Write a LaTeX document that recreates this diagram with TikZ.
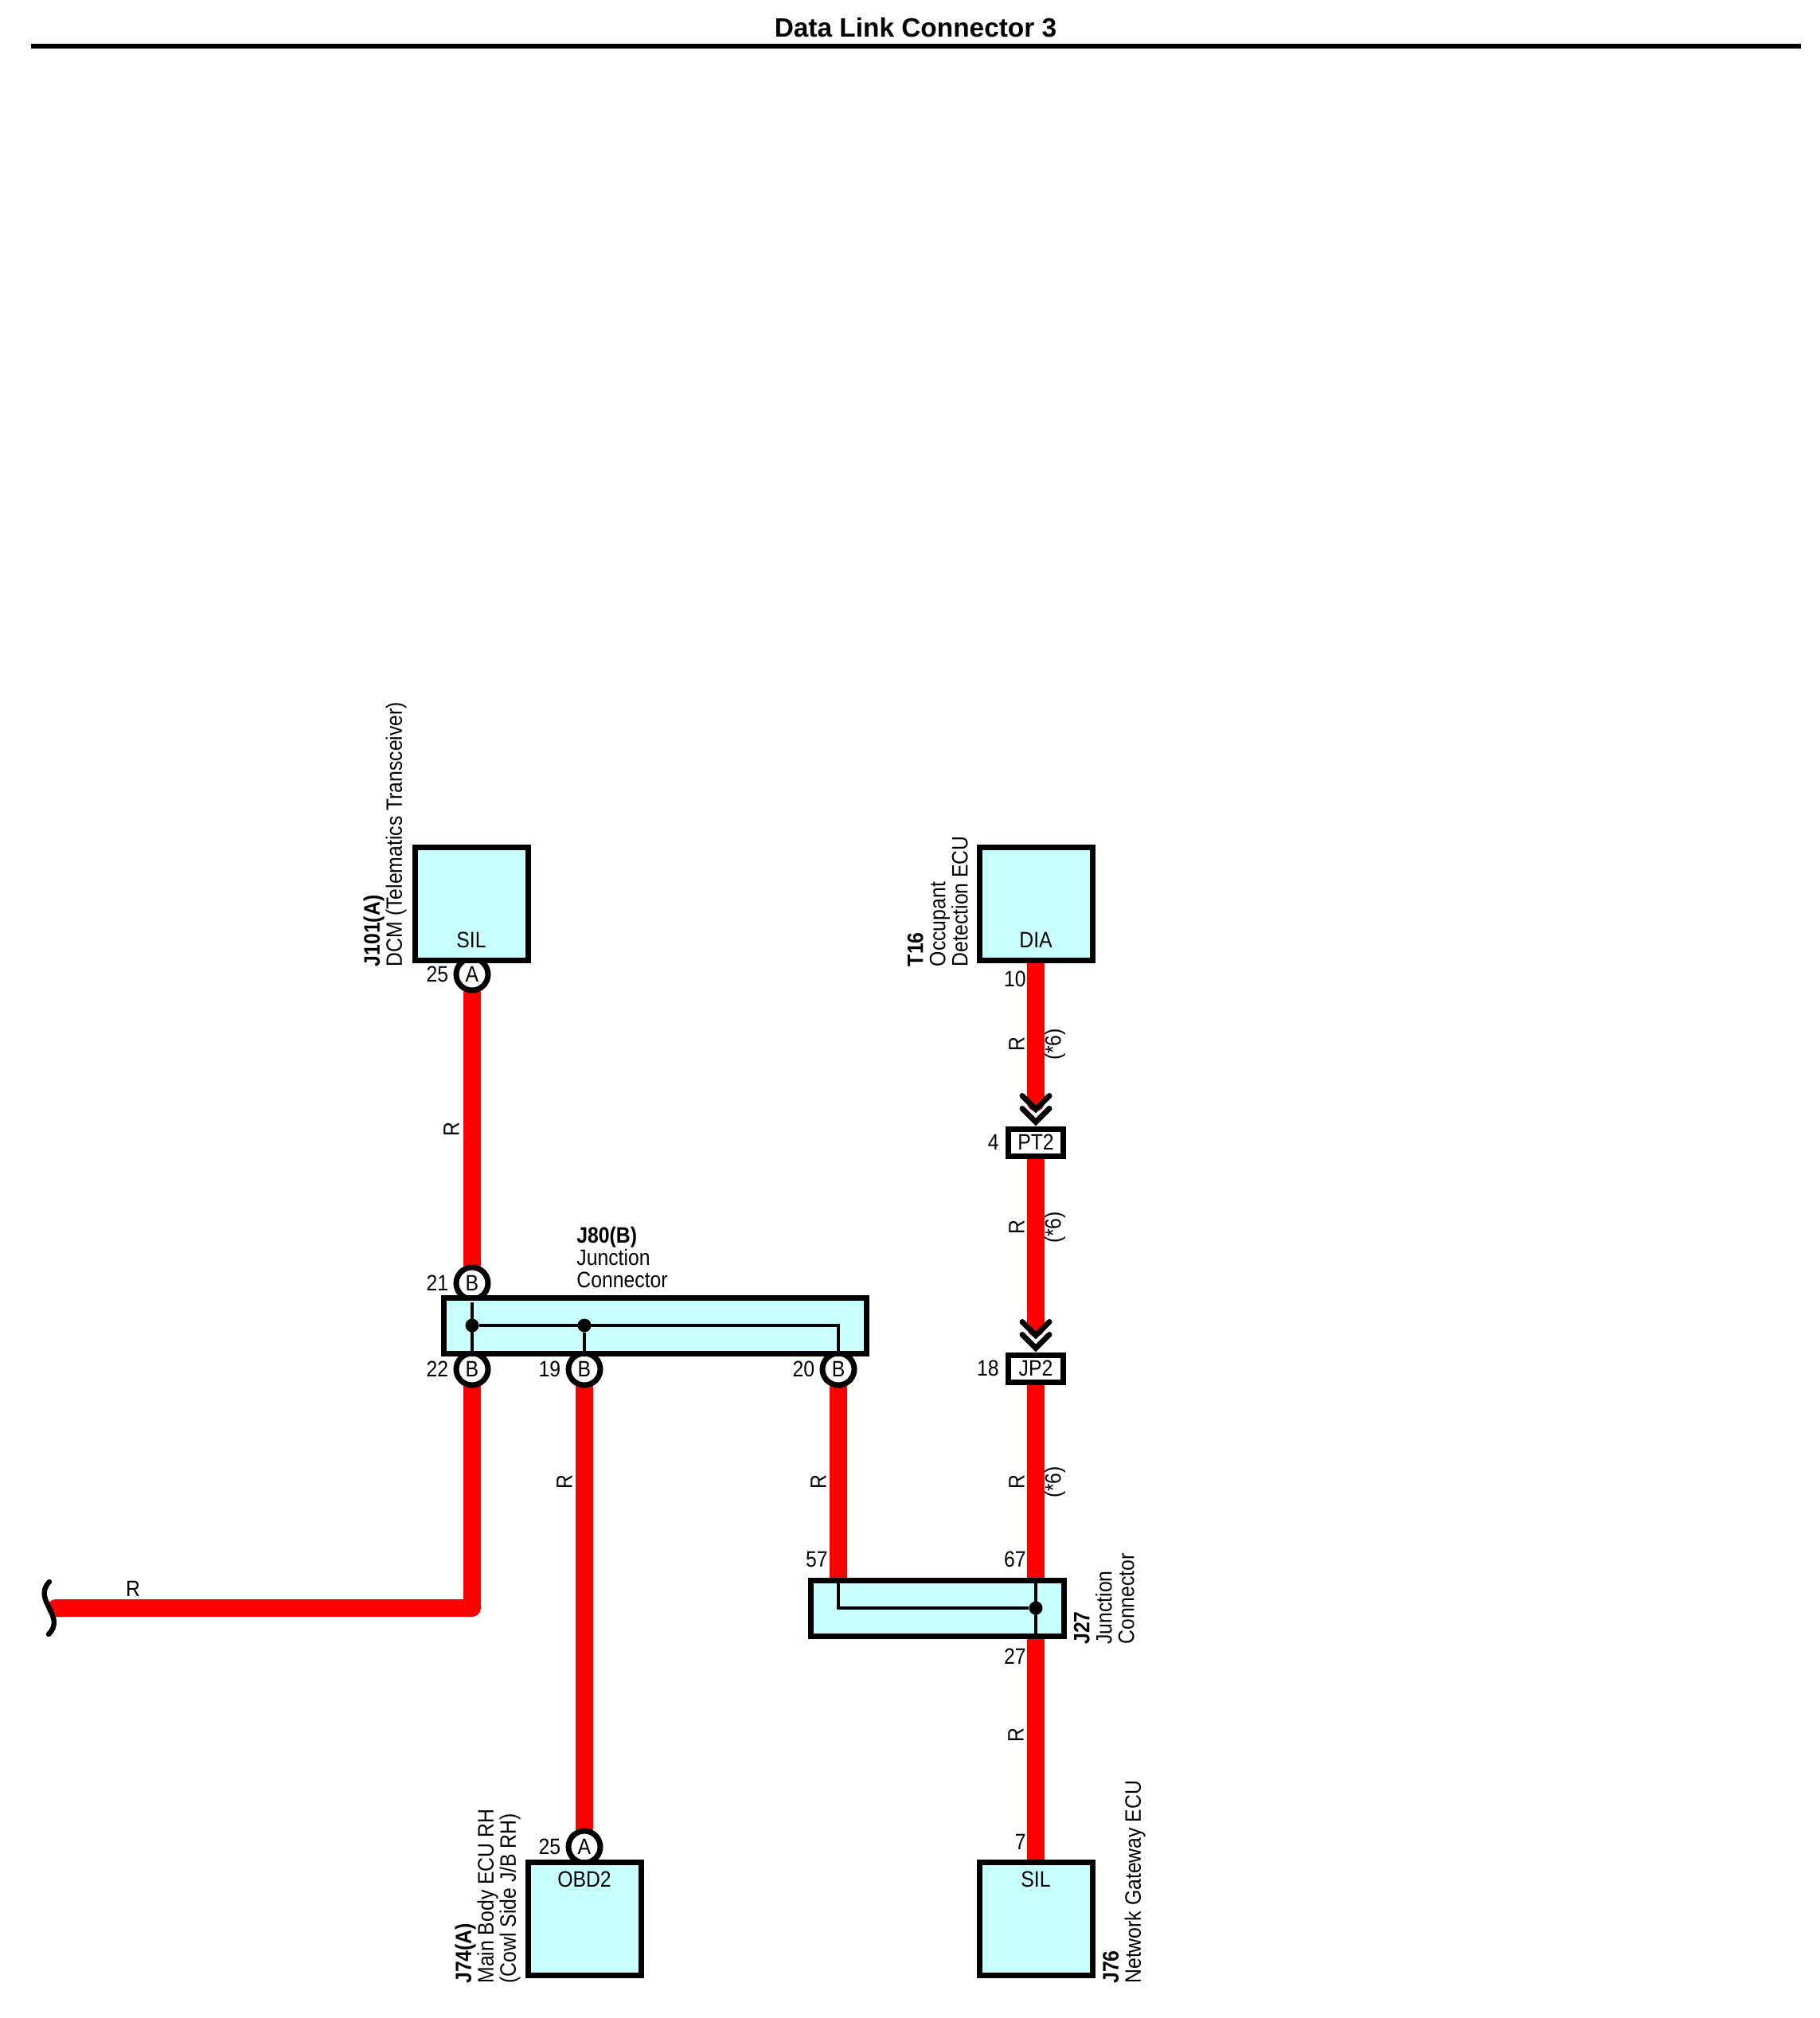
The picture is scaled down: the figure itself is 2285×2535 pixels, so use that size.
\documentclass[tikz,border=0pt]{standalone}
\usepackage{fontspec}
\setmainfont{Liberation Sans}[FakeStretch=0.885]
\newfontfamily\titlefont{Liberation Sans}
\usetikzlibrary{backgrounds, positioning}
\definecolor{boxcyan}{RGB}{200,255,255}
\definecolor{wirered}{RGB}{255,0,0}

\tikzset{
    lbl/.style={inner sep=0pt, font=\fontsize{14}{14}\selectfont, align=left},
    uplbl/.style={lbl, rotate=90, anchor=south west},
    wirelbl/.style={lbl, rotate=90},
    pinnum/.style={lbl},
    ecubox/.style={draw, line width=3.5pt, fill=boxcyan, minimum width=71pt, minimum height=71pt},
    jbox/.style={draw, line width=3.5pt, fill=boxcyan, minimum height=35pt},
    plug/.style={draw, line width=3.5pt, fill=white, inner sep=0pt, minimum width=34.5pt, minimum height=17pt, font=\fontsize{14}{14}\selectfont},
    pin/.style={circle, draw, line width=3.5pt, fill=white, inner sep=0pt, minimum size=20pt, font=\fontsize{14}{14}\selectfont},
    dot/.style={circle, fill=black, inner sep=0pt, minimum size=8.5pt},
    wire/.style={draw=wirered, line width=11pt, line cap=round, line join=round},
    inner/.style={draw, line width=2pt},
    chevrons/.pic={
        \draw[line width=3.5pt, line cap=round] (-17,-17) -- (0,0) -- (17,-17);
        \draw[line width=3.5pt, line cap=round] (-17,-33) -- (0,-16) -- (17,-33);
    }
}

\begin{document}
\begin{tikzpicture}[x=0.5pt, y=-0.5pt, node distance=3pt]
    \useasboundingbox (0,0) rectangle (2285,2535);

    % title
    \node (title) [inner sep=0pt] at (1150,35) {\titlefont\bfseries\fontsize{16.7}{17}\selectfont Data Link Connector 3};
    \coordinate (rulel) at (39,58);
    \coordinate (ruler) at (2262,58);
    \draw[line width=3pt] (rulel) -- (ruler);

    % pins go first, the boxes sit over them
    \node (pa) [pin] at (593,1224) {A};
    \node (b21) [pin] at (593,1612) {B};
    \node (b22) [pin] at (593,1720) {B};
    \node (b19) [pin] at (734,1720) {B};
    \node (b20) [pin] at (1053,1720) {B};
    \node (pobd) [pin] at (734,2320) {A};

    \node (dcm) [ecubox] at (592.5,1135) {};
    \node (occ) [ecubox] at (1301,1135) {};
    \node (mbe) [ecubox] at (734.5,2410) {};
    \node (gate) [ecubox] at (1301,2410) {};
    \node (j80) [jbox, minimum width=265.5pt] at (823,1665.5) {};
    \node (j27) [jbox, minimum width=159pt] at (1177,2020) {};
    \node (pt2) [plug] at (1301,1435) {PT2};
    \node (jp2) [plug] at (1301,1719) {JP2};

    \coordinate (pt2in) at (1301,1385);
    \coordinate (jp2in) at (1301,1668);
    \coordinate (j57) at (1053,1983);
    \coordinate (j67) at (1301,1983);
    \coordinate (j27out) at (1301,2057);
    \coordinate (brk) at (70,2020);

    % wires
    \begin{scope}[on background layer]
        \draw[wire] (pa) -- (b21);
        \draw[wire] (b22) |- (brk);
        \draw[wire] (b19) -- (pobd);
        \draw[wire] (b20) -- (j57);
        \draw[wire] (occ) -- (pt2in);
        \draw[wire] (pt2) -- (jp2in);
        \draw[wire] (jp2) -- (j67);
        \draw[wire] (j27out) -- (gate);
    \end{scope}

    \pic at ([yshift=2.5pt]pt2.north) {chevrons};
    \pic at ([yshift=2.5pt]jp2.north) {chevrons};

    % break mark
    \coordinate (brka) at (62,1987);
    \coordinate (brkb) at (61,2053);
    \draw[line width=3.2pt, line cap=round] (brka) .. controls (40,2010) and (84,2030) .. (brkb);

    % inside the junction connectors
    \node (jd1) [dot] at (593,1665) {};
    \node (jd2) [dot] at (734,1665) {};
    \node (jd3) [dot] at (1301,2020) {};
    \draw[inner] (b21.south) -- (b22.north);
    \draw[inner] (jd1) -| (b20.north);
    \draw[inner] (jd2) -- (b19.north);
    \draw[inner] (j57) |- (jd3);
    \draw[inner] (j67) -- (j27out);

    % pin numbers
    \node (n25a) [pinnum, left=of pa] {25};
    \node (n21) [pinnum, left=of b21] {21};
    \node (n22) [pinnum, left=of b22] {22};
    \node (n19) [pinnum, left=of b19] {19};
    \node (n20) [pinnum, left=of b20] {20};
    \node (n25b) [pinnum, left=of pobd] {25};
    \node (n4) [pinnum, left=4pt of pt2] {4};
    \node (n18) [pinnum, left=4pt of jp2] {18};
    \node (n10) [pinnum, anchor=east] at (1289,1230) {10};
    \node (n57) [pinnum, anchor=east] at (1040,1959) {57};
    \node (n67) [pinnum, anchor=east] at (1289,1959) {67};
    \node (n27) [pinnum, anchor=east] at (1289,2081) {27};
    \node (n7) [pinnum, anchor=east] at (1289,2314) {7};

    % terminal names
    \node (tsil) [lbl] at (592,1181) {SIL};
    \node (tdia) [lbl] at (1301,1181) {DIA};
    \node (tobd) [lbl] at (734,2361) {OBD2};
    \node (tsilb) [lbl] at (1301,2361) {SIL};

    % wire colours
    \node (r1) [wirelbl] at (567,1419) {R};
    \node (r2) [wirelbl] at (709,1862) {R};
    \node (r3) [wirelbl] at (1028,1862) {R};
    \node (r4) [wirelbl] at (1277,1312) {R};
    \node (r5) [wirelbl] at (1277,1542) {R};
    \node (r6) [wirelbl] at (1277,1862) {R};
    \node (r7) [wirelbl] at (1276,2180) {R};
    \node (r8) [lbl] at (167,1996) {R};
    \node (s1) [wirelbl] at (1325,1312) {(*6)};
    \node (s2) [wirelbl] at (1325,1542) {(*6)};
    \node (s3) [wirelbl] at (1325,1862) {(*6)};

    % component names
    \node (ldcm) [uplbl] at (511,1214.5) {\textbf{J101(A)}\\DCM (Telematics Transceiver)};
    \node (locc) [uplbl] at (1216,1214.5) {\textbf{T16}\\Occupant\\Detection ECU};
    \node (lj27) [uplbl] at (1425,2066) {\textbf{J27}\\Junction\\Connector};
    \node (lmbe) [uplbl] at (654,2492) {\textbf{J74(A)}\\Main Body ECU RH\\(Cowl Side J/B RH)};
    \node (lgate) [uplbl] at (1439,2492) {\textbf{J76}\\Network Gateway ECU};
    \node (lj80) [lbl, anchor=north west] at (724,1541) {\textbf{J80(B)}\\Junction\\Connector};
\end{tikzpicture}
\end{document}
